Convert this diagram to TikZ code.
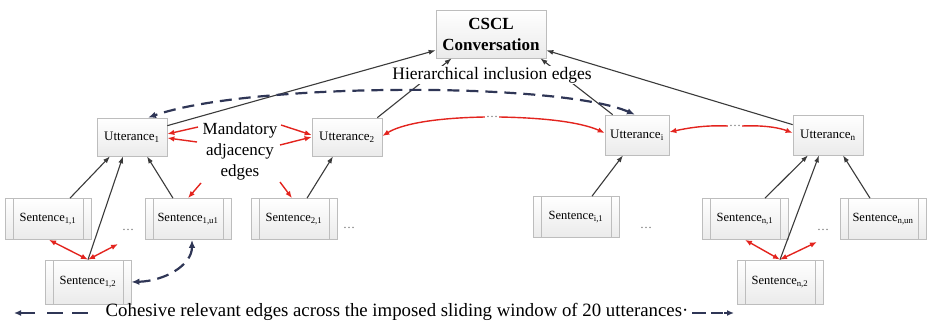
\documentclass[tikz,border=0pt]{standalone}
\usepackage{fontspec}
\setmainfont{Liberation Serif}
\usetikzlibrary{arrows.meta}
\definecolor{edgegray}{HTML}{3A3A3A}
\definecolor{adjred}{HTML}{E3241E}
\definecolor{cohnavy}{HTML}{2F3656}
\definecolor{boxborder}{HTML}{BDBDBD}
\tikzset{
  box/.style={draw=boxborder, line width=0.7pt, top color=white, bottom color=gray!16,
    minimum width=70pt, minimum height=38pt, inner sep=2pt, font=\fontsize{13}{15}\selectfont},
  sentbox/.style={box, minimum width=86pt, minimum height=41pt, font=\fontsize{12.5}{15}\selectfont,
    path picture={\draw[boxborder,line width=0.6pt]
      ([xshift=8pt]path picture bounding box.north west) -- ([xshift=8pt]path picture bounding box.south west)
      ([xshift=-8pt]path picture bounding box.north east) -- ([xshift=-8pt]path picture bounding box.south east);}},
  incl/.style={draw=edgegray, line width=1.1pt, -{Latex[length=7pt,width=5pt]}},
  adj/.style={draw=adjred, line width=1.4pt, -{Latex[length=7pt,width=5.5pt]}},
  adjboth/.style={draw=adjred, line width=1.4pt, {Latex[length=7pt,width=5.5pt]}-{Latex[length=7pt,width=5.5pt]}},
  cohline/.style={draw=cohnavy, line width=2.2pt, dash pattern=on 12pt off 7pt},
  coh/.style={cohline, {Latex[length=8pt,width=6.5pt]}-{Latex[length=8pt,width=6.5pt]}},
  legdash/.style={draw=cohnavy, line width=1.6pt},
  big/.style={font=\fontsize{17.5}{21}\selectfont, align=center, inner sep=1pt},
  dots/.style={font=\fontsize{12}{14}\selectfont, text=gray!80!black, inner sep=1pt},
}
\begin{document}
\begin{tikzpicture}[x=1pt,y=-1pt]
\useasboundingbox (0,0) rectangle (928,326);
% nodes
\node[box, minimum width=110pt, minimum height=48pt, font=\fontsize{17}{21}\selectfont\bfseries, align=center] (cscl) at (491,34) {CSCL\\Conversation};
\node[box] (u1) at (132,137) {Utterance\textsubscript{1}};
\node[box] (u2) at (347,137) {Utterance\textsubscript{2}};
\node[box, minimum width=64pt, minimum height=40pt] (ui) at (637,135) {Utterance\textsubscript{i}};
\node[box, minimum height=40pt] (un) at (828,135) {Utterance\textsubscript{n}};
\node[sentbox] (s11) at (48,219) {Sentence\textsubscript{1,1}};
\node[sentbox] (s1u) at (188,219) {Sentence\textsubscript{1,u1}};
\node[sentbox] (s21) at (294,219) {Sentence\textsubscript{2,1}};
\node[sentbox] (si1) at (576,217) {Sentence\textsubscript{i,1}};
\node[sentbox] (sn1) at (745,219) {Sentence\textsubscript{n,1}};
\node[sentbox] (snu) at (883,219) {Sentence\textsubscript{n,un}};
\node[sentbox, minimum height=44pt] (s12) at (88,282) {Sentence\textsubscript{1,2}};
\node[sentbox, minimum height=44pt] (sn2) at (780,282) {Sentence\textsubscript{n,2}};
\node[dots] (d1) at (128,230) {\ldots};
\node[dots] (d2) at (349,228) {\ldots};
\node[dots] (d3) at (646,228) {\ldots};
\node[dots] (d4) at (823,230) {\ldots};
\node[dots] (dA) at (492,117) {\ldots};
\node[dots] (dB) at (735,126) {\ldots};
% hierarchical inclusion edges
\draw[incl] ([yshift=-8pt]u1.north east) -- ([yshift=8pt]cscl.south west);
\draw[incl] ([xshift=-5pt]u2.north east) -- ([xshift=16pt]cscl.south west);
\draw[incl] ([xshift=8pt]ui.north west) -- ([xshift=-6pt]cscl.south east);
\draw[incl] ([yshift=-10pt]un.north west) -- ([yshift=8pt]cscl.south east);
\draw[incl] ([xshift=22pt]s11.north) -- ([xshift=-22pt]u1.south);
\draw[incl] (s12.north) -- ([xshift=-9pt]u1.south);
\draw[incl] ([xshift=-15pt]s1u.north) -- ([xshift=15pt]u1.south);
\draw[incl] ([xshift=13pt]s21.north) -- ([xshift=-14pt]u2.south);
\draw[incl] ([xshift=16pt]si1.north) -- ([xshift=-14pt]ui.south);
\draw[incl] ([xshift=20pt]sn1.north) -- ([xshift=-20pt]un.south);
\draw[incl] (sn2.north) -- ([xshift=-9pt]un.south);
\draw[incl] ([xshift=-13pt]snu.north) -- ([xshift=15pt]un.south);
% labels
\node[big, fill=white] (hier) at (492,75) {Hierarchical inclusion edges};
\node[big, font=\fontsize{17}{21}\selectfont] (mand) at (240,151) {Mandatory\\adjacency\\edges};
% mandatory adjacency edges
\coordinate (m1) at (198,127);
\coordinate (m2) at (197,142);
\coordinate (m3) at (281,125);
\coordinate (m4) at (280,145);
\coordinate (m5) at (201,183);
\coordinate (m6) at (280,182);
\draw[adj] (m1) -- ([yshift=3pt]u1.east);
\draw[adj] (m2) -- ([yshift=-1pt]u1.east);
\draw[adj] (m3) -- ([yshift=2pt]u2.west);
\draw[adj] (m4) -- ([yshift=0pt]u2.west);
\draw[adj] (m5) -- (s1u.north);
\draw[adj] (m6) -- ([xshift=-2pt]s21.north);
\draw[adj] (dA.west) .. controls (430,118) and (400,125) .. ([yshift=1pt]u2.east);
\draw[adj] (dA.east) .. controls (555,118) and (585,124) .. ([yshift=2pt]ui.west);
\draw[adj] (dB.west) .. controls (705,125) and (688,128) .. ([yshift=3pt]ui.east);
\draw[adj] (dB.east) .. controls (765,125) and (780,128) .. ([yshift=2pt]un.west);
\coordinate (r1) at (118,244);
\coordinate (r2) at (817,242);
\draw[adjboth] (s12.north) -- ([xshift=1pt]s11.south);
\draw[adjboth] (s12.north) -- (r1);
\draw[adjboth] (sn2.north) -- (sn1.south);
\draw[adjboth] (sn2.north) -- (r2);
% cohesive edges
\draw[coh] ([xshift=-2pt]ui.north) .. controls (560,82) and (250,82) .. ([xshift=16pt]u1.north);
\draw[coh] (s12.east) .. controls (165,281) and (192,265) .. ([xshift=4pt]s1u.south);
% legend
\node[big, font=\fontsize{18.8}{22}\selectfont] (leg) at (397,312) {Cohesive relevant edges across the imposed sliding window of 20 utterances·};
\coordinate (la1) at (35,313);
\coordinate (la2) at (14,313);
\coordinate (la3) at (47,313);
\coordinate (la4) at (63,313);
\coordinate (la5) at (72,313);
\coordinate (la6) at (88,313);
\coordinate (lb1) at (692,313);
\coordinate (lb2) at (706,313);
\coordinate (lb3) at (711,313);
\coordinate (lb4) at (723,313);
\coordinate (lb5) at (724,313);
\coordinate (lb6) at (734,313);
\draw[legdash, -{Latex[length=7pt,width=6pt]}] (la1) -- (la2);
\draw[legdash] (la3) -- (la4) (la5) -- (la6);
\draw[legdash] (lb1) -- (lb2) (lb3) -- (lb4);
\draw[legdash, -{Latex[length=7pt,width=6pt]}] (lb5) -- (lb6);
\end{tikzpicture}
\end{document}
